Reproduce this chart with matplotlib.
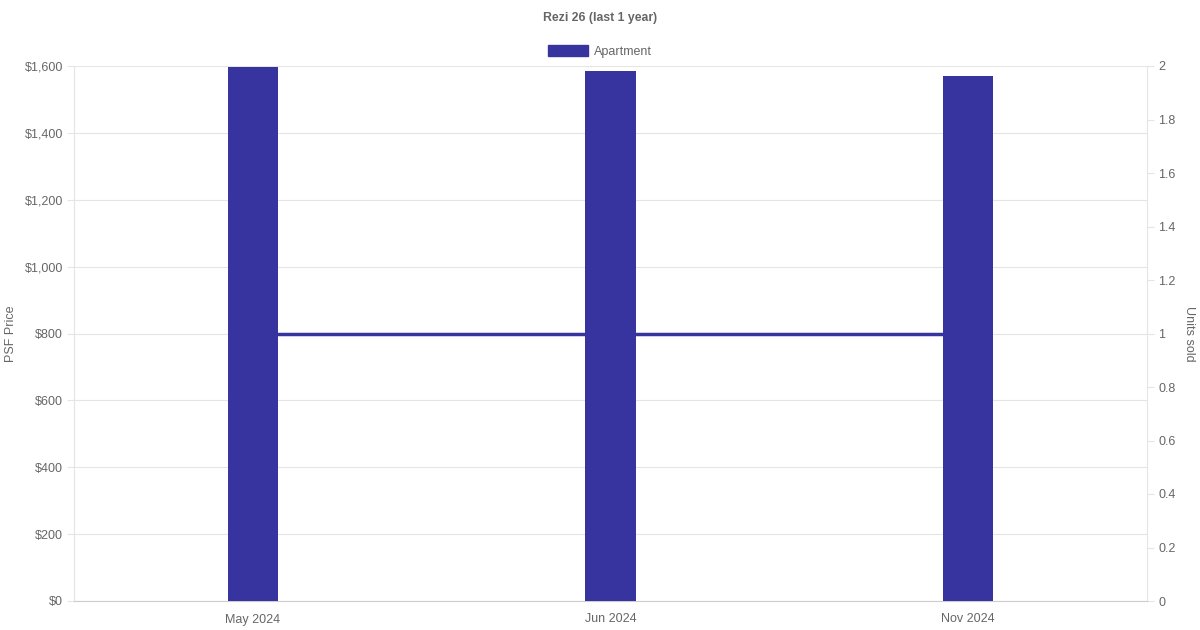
import matplotlib
matplotlib.use("Agg")
import matplotlib.pyplot as plt
from matplotlib.patches import Patch

months = ["May 2024", "Jun 2024", "Nov 2024"]
psf_price = [1597, 1585, 1570]
units_sold = [1, 1, 1]
left_ticks = [0, 200, 400, 600, 800, 1000, 1200, 1400, 1600]
right_ticks = [0, 0.2, 0.4, 0.6, 0.8, 1, 1.2, 1.4, 1.6, 1.8, 2]

bar_color = "#38349F"
text_color = "#666666"
grid_color = "#e5e5e5"

plt.rcParams["font.family"] = ["Liberation Sans", "DejaVu Sans"]

fig = plt.figure(figsize=(12, 6.3), dpi=100)
ax = fig.add_axes([74 / 1200, 1 - 601 / 630, (1147 - 74) / 1200, (601 - 66) / 630])
ax2 = ax.twinx()

x = list(range(len(months)))
ax.bar(x, psf_price, width=0.14, color=bar_color, zorder=3)
ax.set_xlim(-0.5, len(months) - 0.5)
ax.set_ylim(0, 1600)
ax.set_yticks(left_ticks)
ax.set_yticklabels(["${:,}".format(v) for v in left_ticks])
ax.set_xticks(x)
ax.set_xticklabels(months)
ax.grid(axis="y", color=grid_color, linewidth=0.8, zorder=0)

ax2.set_ylim(0, 2)
ax2.set_yticks(right_ticks)
ax2.set_yticklabels(["{:g}".format(v) for v in right_ticks])
# units line uses the right-hand scale but sits under the bars
ax.plot(x, units_sold, color=bar_color, linewidth=2.5, zorder=2, transform=ax2.transData)

ax.set_zorder(ax2.get_zorder() + 1)
ax.patch.set_visible(False)

for a in (ax, ax2):
    for s in a.spines.values():
        s.set_visible(False)
    a.tick_params(colors=grid_color, labelcolor=text_color, labelsize=9, length=5, width=0.8, pad=3)
ax.tick_params(axis="x", length=0, pad=9)
ax.spines["left"].set_visible(True)
ax.spines["left"].set_color(grid_color)
ax.spines["bottom"].set_visible(True)
ax.spines["bottom"].set_color("#cccccc")
ax2.spines["right"].set_visible(True)
ax2.spines["right"].set_color(grid_color)

ax.set_ylabel("PSF Price", color=text_color, fontsize=9, va="center")
ax.yaxis.set_label_coords(-63 / 1073, 0.5)
ax2.set_ylabel("Units sold", color=text_color, fontsize=9, rotation=270, va="center")
ax2.yaxis.set_label_coords(1 + 42 / 1073, 0.5)

fig.text(0.5, 1 - 17.5 / 630, "Rezi 26 (last 1 year)", ha="center", va="center",
         fontsize=8.8, fontweight="bold", color=text_color)
fig.legend(handles=[Patch(facecolor=bar_color, edgecolor=bar_color, label="Apartment")],
           loc="center", bbox_to_anchor=(0.5, 1 - 51.5 / 630), frameon=False,
           fontsize=9, labelcolor=text_color, handlelength=3.2, handleheight=0.9,
           handletextpad=0.5)

fig.savefig("out.png", dpi=100)
